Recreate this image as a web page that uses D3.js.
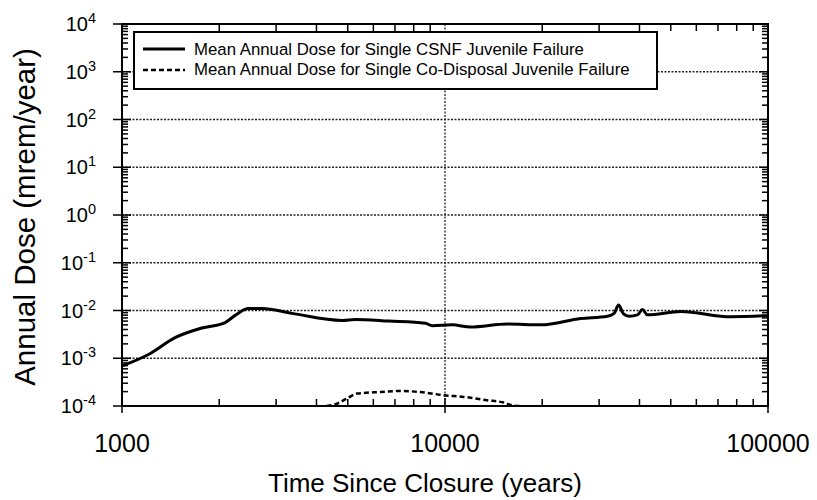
<!DOCTYPE html>
<html>
<head>
<meta charset="utf-8">
<script src="https://cdn.jsdelivr.net/npm/d3@7/dist/d3.min.js"></script>
<style>
body { margin: 0; background: #fff; }
text { font-family: "Liberation Sans", Arial, Helvetica, sans-serif; fill: #000; }
</style>
</head>
<body>
<div id="main_div"></div>
<script>
// mean annual dose, single CSNF juvenile failure
var csnf_years = [1000, 1207, 1460, 1767, 2086, 2240, 2464, 2710, 3360, 4800, 5280, 6700, 8700, 9130, 10520,
    12000, 15600, 19800, 26300, 31850, 33400, 34450, 35700, 37150, 39450, 40850, 42350, 53700, 76800, 100000];
var csnf_dose = [6.9e-4, 1.2e-3, 2.7e-3, 4.3e-3, 5.6e-3, 7.9e-3, 1.1e-2, 1.1e-2, 8.7e-3, 6.2e-3, 6.5e-3, 6.0e-3, 5.4e-3, 4.8e-3, 5.0e-3,
    4.5e-3, 5.2e-3, 5.0e-3, 6.8e-3, 7.6e-3, 8.7e-3, 1.3e-2, 8.5e-3, 7.6e-3, 8.1e-3, 1.05e-2, 8.1e-3, 9.5e-3, 7.4e-3, 7.8e-3];

// mean annual dose, single co-disposal juvenile failure
var codisp_years = [4300, 4630, 4970, 5340, 6310, 7280, 8400, 9920, 11430, 13500, 15200, 16150, 17000];
var codisp_dose = [1.0e-4, 1.12e-4, 1.43e-4, 1.82e-4, 1.96e-4, 2.06e-4, 1.96e-4, 1.68e-4, 1.55e-4, 1.32e-4, 1.18e-4, 1.03e-4, 1.0e-4];

var x_ticks = [1000, 10000, 100000];
var y_exps = [-4, -3, -2, -1, 0, 1, 2, 3, 4];
var legend_labels = ["Mean Annual Dose for Single CSNF Juvenile Failure",
    "Mean Annual Dose for Single Co-Disposal Juvenile Failure"];

var x_scale = d3.scaleLog().domain([1000, 100000]).range([122, 768]);
var y_scale = d3.scaleLog().domain([1e-4, 1e4]).range([406, 24]);

var svg = d3.select("#main_div").append("svg").attr("width", 817).attr("height", 500);

svg.append("clipPath").attr("id", "plot_clip").append("rect")
    .attr("x", 122).attr("y", 24).attr("width", 646).attr("height", 382);

// grid
var grid = svg.append("g").attr("stroke", "#222").attr("stroke-width", 1.3).attr("stroke-dasharray", "2,1.5");
grid.selectAll("line.h").data(y_exps.slice(1, -1)).enter().append("line")
    .attr("x1", 122).attr("x2", 768)
    .attr("y1", function(d) { return y_scale(Math.pow(10, d)); })
    .attr("y2", function(d) { return y_scale(Math.pow(10, d)); });
grid.append("line")
    .attr("x1", x_scale(10000)).attr("x2", x_scale(10000))
    .attr("y1", 24).attr("y2", 406);

// minor ticks
var x_minor = [];
[1000, 10000].forEach(function(b) { for (var k = 2; k <= 9; k++) x_minor.push(b * k); });
var y_minor = [];
y_exps.slice(0, -1).forEach(function(e) { for (var k = 2; k <= 9; k++) y_minor.push(k * Math.pow(10, e)); });

var ticks = svg.append("g").attr("stroke", "#000").attr("stroke-width", 1.5);
ticks.selectAll("line.xb").data(x_minor).enter().append("line")
    .attr("x1", function(d) { return x_scale(d); }).attr("x2", function(d) { return x_scale(d); })
    .attr("y1", 406).attr("y2", 399);
ticks.selectAll("line.xt").data(x_minor).enter().append("line")
    .attr("x1", function(d) { return x_scale(d); }).attr("x2", function(d) { return x_scale(d); })
    .attr("y1", 24).attr("y2", 31);
ticks.selectAll("line.yl").data(y_minor).enter().append("line")
    .attr("x1", 122).attr("x2", 128)
    .attr("y1", function(d) { return y_scale(d); }).attr("y2", function(d) { return y_scale(d); });
ticks.selectAll("line.yr").data(y_minor).enter().append("line")
    .attr("x1", 768).attr("x2", 762)
    .attr("y1", function(d) { return y_scale(d); }).attr("y2", function(d) { return y_scale(d); });
// major ticks
ticks.selectAll("line.xm").data(x_ticks).enter().append("line")
    .attr("x1", function(d) { return x_scale(d); }).attr("x2", function(d) { return x_scale(d); })
    .attr("y1", 398).attr("y2", 413);
ticks.selectAll("line.ym").data(y_exps).enter().append("line")
    .attr("x1", 113).attr("x2", 131)
    .attr("y1", function(d) { return y_scale(Math.pow(10, d)); })
    .attr("y2", function(d) { return y_scale(Math.pow(10, d)); });
ticks.selectAll("line.ymr").data(y_exps).enter().append("line")
    .attr("x1", 759).attr("x2", 768)
    .attr("y1", function(d) { return y_scale(Math.pow(10, d)); })
    .attr("y2", function(d) { return y_scale(Math.pow(10, d)); });

// data lines
var line_csnf = d3.line()
    .x(function(d, i) { return x_scale(csnf_years[i]); })
    .y(function(d) { return y_scale(d); })
    .curve(d3.curveMonotoneX);
var line_codisp = d3.line()
    .x(function(d, i) { return x_scale(codisp_years[i]); })
    .y(function(d) { return y_scale(d); })
    .curve(d3.curveMonotoneX);

var plot = svg.append("g").attr("clip-path", "url(#plot_clip)");
plot.append("path").datum(csnf_dose).attr("d", line_csnf)
    .attr("fill", "none").attr("stroke", "#000").attr("stroke-width", 3).attr("stroke-linejoin", "round");
plot.append("path").datum(codisp_dose).attr("d", line_codisp)
    .attr("fill", "none").attr("stroke", "#000").attr("stroke-width", 2.5).attr("stroke-dasharray", "5,3");

// frame
svg.append("rect").attr("x", 122).attr("y", 24).attr("width", 646).attr("height", 382)
    .attr("fill", "none").attr("stroke", "#000").attr("stroke-width", 2);

// legend
var legend = svg.append("g");
legend.append("rect").attr("x", 134).attr("y", 32).attr("width", 523).attr("height", 57)
    .attr("fill", "#fff").attr("stroke", "#000").attr("stroke-width", 2);
legend.append("line").attr("x1", 143).attr("x2", 185).attr("y1", 49).attr("y2", 49)
    .attr("stroke", "#000").attr("stroke-width", 3);
legend.append("line").attr("x1", 143).attr("x2", 185).attr("y1", 70).attr("y2", 70)
    .attr("stroke", "#000").attr("stroke-width", 2.5).attr("stroke-dasharray", "5,3");
legend.selectAll("text").data(legend_labels).enter().append("text")
    .attr("x", 194).attr("y", function(d, i) { return 55 + i * 20; })
    .attr("font-size", 16.8).text(function(d) { return d; });

// x tick labels
svg.selectAll("text.xl").data(x_ticks).enter().append("text")
    .attr("x", function(d) { return x_scale(d); }).attr("y", 452)
    .attr("text-anchor", "middle").attr("font-size", 25)
    .text(function(d) { return d; });

// y tick labels
var yl = svg.selectAll("text.yl").data(y_exps).enter().append("text")
    .attr("x", 96).attr("y", function(d) { return y_scale(Math.pow(10, d)) + 7; })
    .attr("text-anchor", "end").attr("font-size", 20);
yl.append("tspan").text("10");
yl.append("tspan").attr("dy", -8).attr("font-size", 14.5).text(function(d) { return d < 0 ? "-" + (-d) : d; });

// axis titles
svg.append("text").attr("x", 425).attr("y", 492).attr("text-anchor", "middle")
    .attr("font-size", 26).text("Time Since Closure (years)");
svg.append("text").attr("transform", "translate(35,217) rotate(-90)").attr("text-anchor", "middle")
    .attr("font-size", 29.5).text("Annual Dose (mrem/year)");
</script>
</body>
</html>
